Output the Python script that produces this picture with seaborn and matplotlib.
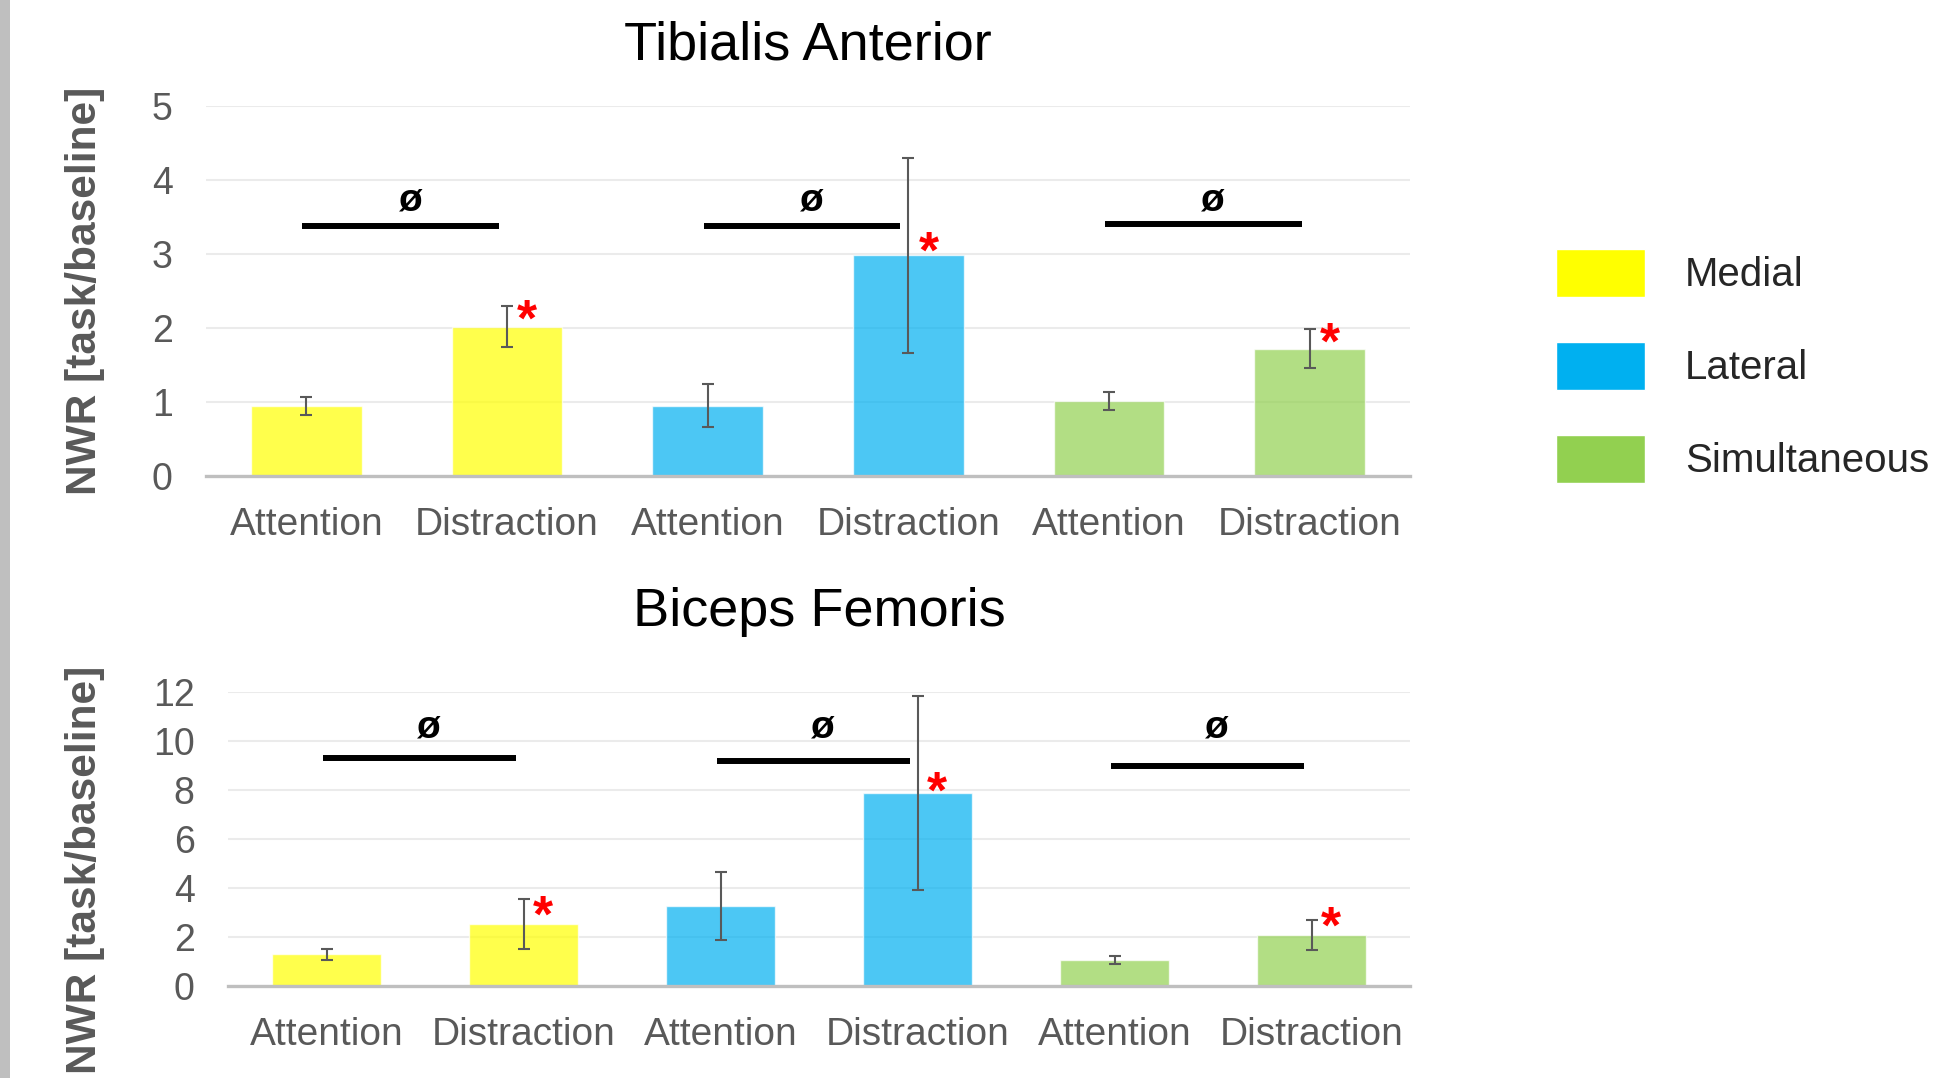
import pandas as pd
import seaborn as sns
import matplotlib.pyplot as plt
from matplotlib.patches import Patch, Rectangle

# data
sides = ['Medial', 'Lateral', 'Simultaneous']
conds = ['Attention', 'Distraction']
colors = ['#FFFF00', '#00B0F0', '#92D050']

ta_mean = [0.95, 2.02, 0.95, 2.98, 1.01, 1.72]
ta_err = [0.12, 0.28, 0.29, 1.32, 0.12, 0.26]
ta_sig = [3.38, 3.38, 3.40]
ta_phi = 3.74
ta_star = [2.21, 3.14, 1.91]

bf_mean = [1.29, 2.53, 3.26, 7.87, 1.06, 2.08]
bf_err = [0.23, 1.03, 1.40, 3.95, 0.17, 0.62]
bf_sig = [9.30, 9.20, 8.99]
bf_phi = 10.6
bf_star = [3.19, 8.25, 2.73]

sns.set_style('white')
plt.rcParams['font.family'] = ['Liberation Sans', 'DejaVu Sans']

fig = plt.figure(figsize=(19.6, 10.78), dpi=100)
ax1 = fig.add_axes([206/1960, 1 - 476/1078, 1204/1960, 370/1078])
ax2 = fig.add_axes([228/1960, 1 - 986/1078, 1182/1960, 294/1078])


def panel(ax, mean, err, sig, phi_y, star_y, ymax, step, title, title_y):
    df = pd.DataFrame({
        'key': [s + ' ' + c for s in sides for c in conds],
        'side': [s for s in sides for c in conds],
        'value': mean,
    })
    sns.barplot(data=df, x='key', y='value', hue='side', palette=colors,
                dodge=False, width=0.55, alpha=0.7, saturation=1, errorbar=None,
                legend=False, ax=ax, zorder=2)
    ax.errorbar(range(len(mean)), mean, yerr=err, fmt='none', ecolor='#595959',
                elinewidth=1.5, capsize=4.5, capthick=1.5, zorder=3)
    for k in range(3):
        a = 2 * k
        ax.plot([a - 0.02, a + 0.96], [sig[k], sig[k]], color='black', lw=4.3,
                solid_capstyle='butt', zorder=4)
        ax.annotate('ø', xy=(a + 0.52, phi_y), xytext=(0, -8), textcoords='offset points',
                    ha='center', va='baseline', fontsize=28, fontweight='bold', color='black')
        ax.annotate('*', xy=(a + 1.1, star_y[k]), xytext=(0, -17), textcoords='offset points',
                    ha='center', va='baseline', fontsize=37, fontweight='bold', color='red')
    ax.set_ylim(0, ymax)
    ax.set_xlim(-0.5, 5.5)
    ax.set_yticks(range(0, ymax + 1, step))
    ax.set_xticks(range(6))
    ax.set_xticklabels(conds * 3)
    ax.set_xlabel('')
    ax.set_ylabel('')
    ax.grid(axis='y', color='#ebebeb', lw=1.5, zorder=0)
    ax.set_axisbelow(True)
    for s in ['top', 'right', 'left']:
        ax.spines[s].set_visible(False)
    ax.spines['bottom'].set_color('#bfbfbf')
    ax.spines['bottom'].set_linewidth(2.4)
    ax.spines['bottom'].set_zorder(5)
    ax.tick_params(axis='x', length=0, pad=22, labelsize=28, labelcolor='#595959')
    ax.tick_params(axis='y', length=0, pad=24, labelsize=27, labelcolor='#595959')
    fig.text(ax.get_position().x0 + ax.get_position().width / 2, title_y, title,
             ha='center', va='center', fontsize=39, color='black')


panel(ax1, ta_mean, ta_err, ta_sig, ta_phi, ta_star, 5, 1, 'Tibialis Anterior', 1 - 45/1078)
panel(ax2, bf_mean, bf_err, bf_sig, bf_phi, bf_star, 12, 2, 'Biceps Femoris', 1 - 612/1078)

for y in [1 - 291/1078, 1 - 870/1078]:
    fig.text(85/1960, y, 'NWR [task/baseline]', rotation=90, ha='center', va='center',
             fontsize=30.5, fontweight='bold', color='#595959')

handles = [Patch(facecolor=c, label=s) for s, c in zip(sides, colors)]
fig.legend(handles=handles, loc='upper left', bbox_to_anchor=(1556/1960, 1 - 249/1078),
           frameon=False, borderpad=0, borderaxespad=0, fontsize=29,
           handlelength=2.2, handleheight=1.45, labelspacing=1.12, handletextpad=1.0)

fig.add_artist(Rectangle((0, 0), 10/1960, 1, transform=fig.transFigure,
                         color='#bfbfbf', lw=0))

fig.savefig('out.png', dpi=100)
